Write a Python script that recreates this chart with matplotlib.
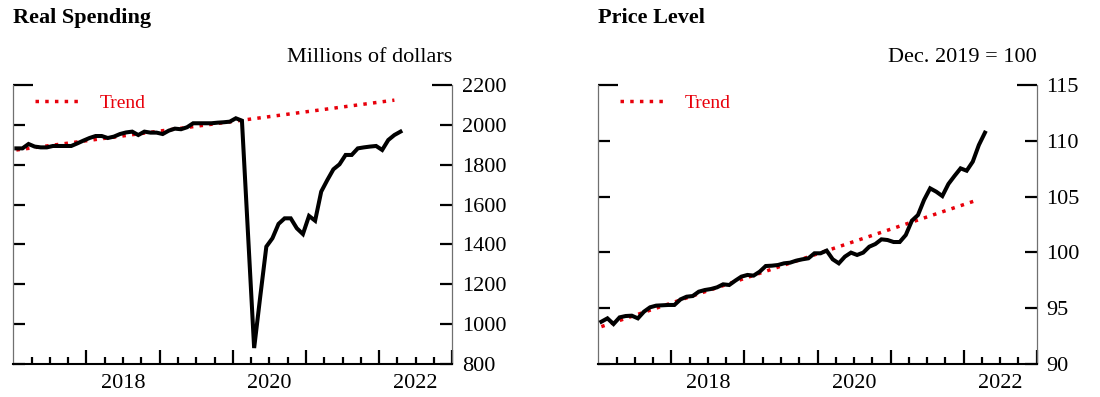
import numpy as np
import matplotlib
matplotlib.use('Agg')
import matplotlib.pyplot as plt
from matplotlib.lines import Line2D

plt.rcParams['font.family'] = ['Liberation Serif', 'DejaVu Serif']

# ---- data (monthly, Jan 2017 - Apr 2022) ----
start_year = 2017
spending = [1882, 1882, 1904, 1891, 1887, 1887, 1894, 1894, 1894, 1894, 1907, 1921,
            1934, 1944, 1944, 1934, 1941, 1954, 1962, 1966, 1949, 1966, 1961, 1961,
            1954, 1971, 1981, 1978, 1988, 2008, 2008, 2008, 2008, 2011, 2013, 2016,
            2033, 2021, 1450, 880, 1138, 1389, 1431, 1503, 1531, 1531, 1481, 1452,
            1543, 1519, 1665, 1723, 1777, 1802, 1849, 1849, 1882, 1887, 1891, 1894,
            1874, 1924, 1949, 1966]
price = [93.79, 94.09, 93.58, 94.18, 94.30, 94.33, 94.09, 94.69, 95.08, 95.23, 95.26, 95.29,
         95.29, 95.79, 96.03, 96.09, 96.48, 96.63, 96.72, 96.87, 97.14, 97.08, 97.47, 97.83,
         97.98, 97.92, 98.27, 98.78, 98.81, 98.87, 99.02, 99.08, 99.26, 99.38, 99.47, 99.92,
         99.92, 100.16, 99.38, 99.02, 99.62, 99.98, 99.77, 99.98, 100.51, 100.75, 101.17, 101.11,
         100.93, 100.93, 101.56, 102.84, 103.35, 104.70, 105.74, 105.44, 105.05, 106.13, 106.85, 107.53,
         107.32, 108.13, 109.62, 110.73]
trend_months = [0, 62]
trend_spending = [1874, 2124]
trend_price = [93.35, 104.74]

labeled_years = [2018, 2020, 2022]
spending_ticks = [800, 1000, 1200, 1400, 1600, 1800, 2000, 2200]
price_ticks = [90, 95, 100, 105, 110, 115]

RED = '#e8000b'
BLACK = '#000000'


def month_x(idx):
    return start_year + (np.asarray(idx, dtype=float) + 0.5) / 12.0


fig = plt.figure(figsize=(11, 3.97), dpi=100)
W, H = 1100.0, 397.0
ax1 = fig.add_axes([13.3 / W, 33.0 / H, 439.0 / W, 279.0 / H])
ax2 = fig.add_axes([598.3 / W, 33.0 / H, 438.4 / W, 279.0 / H])


def draw(ax, series, trend, yticks, title, unit):
    x = month_x(np.arange(len(series)))
    ax.plot(month_x(trend_months), trend, color=RED, lw=2.5,
            dashes=(1, 1.8), dash_capstyle='butt', zorder=2)
    ax.plot(x, series, color=BLACK, lw=2.9, solid_joinstyle='miter', zorder=3)

    ax.set_xlim(2017, 2023)
    ax.set_ylim(yticks[0], yticks[-1])
    ax.spines['top'].set_visible(False)
    for s in ['left', 'right']:
        ax.spines[s].set_color('#707070')
        ax.spines[s].set_linewidth(0.9)
    ax.spines['bottom'].set_color(BLACK)
    ax.spines['bottom'].set_linewidth(1.5)

    ax.set_yticks(yticks)
    ax.set_yticklabels([str(v) for v in yticks])
    ax.tick_params(axis='y', which='major', direction='in', length=8.6, width=1.6,
                   color=BLACK, left=True, right=True, labelleft=False,
                   labelright=True, labelsize=16, pad=7)

    ax.set_xticks([y + 0.5 for y in labeled_years])
    ax.set_xticklabels([str(y) for y in labeled_years])
    ax.set_xticks(np.arange(2017.25, 2023.001, 0.25), minor=True)
    ax.tick_params(axis='x', which='both', direction='in', length=5, width=1.6,
                   color=BLACK, top=False, labelsize=16, pad=7)

    # longer ticks at year starts
    locs = ax.xaxis.get_minorticklocs()
    ticks = ax.xaxis.get_minor_ticks(len(locs))
    for t, loc in zip(ticks, locs):
        if abs(loc - round(loc)) < 1e-6:
            t.tick1line.set_markersize(10)
    # longer tick at top of y axis
    yt = ax.yaxis.get_major_ticks(len(yticks))
    yt[-1].tick1line.set_markersize(14.4)
    yt[-1].tick2line.set_markersize(14.4)

    handle = Line2D([], [], color=RED, lw=2.5, dashes=(1, 1.8), dash_capstyle='butt')
    ax.legend([handle], ['Trend'], loc='upper left', bbox_to_anchor=(0.05, 0.967),
              frameon=False, fontsize=14, labelcolor=RED, handlelength=2.2,
              handletextpad=1.1, borderpad=0, borderaxespad=0)

    pos = ax.get_position()
    fig.text(pos.x0, 1 - 23.3 / H, title, fontsize=16, fontweight='bold',
             ha='left', va='baseline')
    fig.text(pos.x1, 1 - 61.7 / H, unit, fontsize=16, ha='right', va='baseline')


draw(ax1, spending, trend_spending, spending_ticks, 'Real Spending', 'Millions of dollars')
draw(ax2, price, trend_price, price_ticks, 'Price Level', 'Dec. 2019 = 100')

fig.savefig('out.png', dpi=100)
